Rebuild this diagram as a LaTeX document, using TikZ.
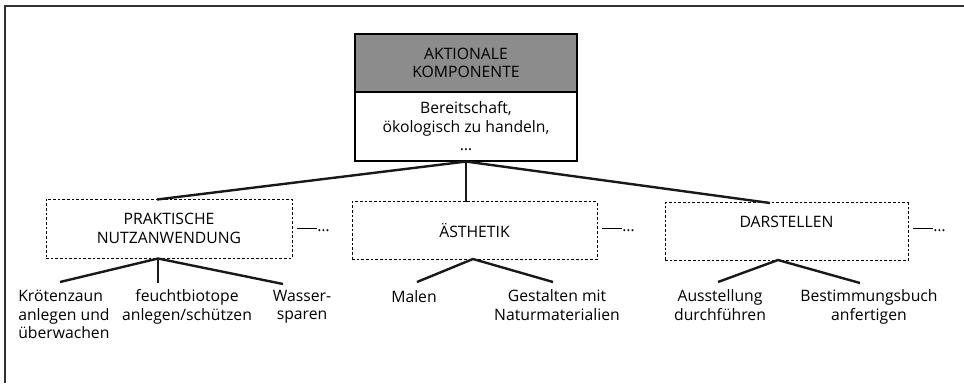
\documentclass[tikz,border=0pt]{standalone}
\usepackage{fontspec}
\setmainfont{Open Sans}
\definecolor{boxgray}{RGB}{140,140,140}
\definecolor{framegray}{RGB}{50,50,50}
\begin{document}
\begin{tikzpicture}[x=0.75pt,y=-0.75pt,
  font=\fontsize{11.8}{13.9}\selectfont,
  conn/.style={line width=1.8pt, black!90},
  solidbox/.style={draw, line width=0.8pt, minimum width=166.5pt, inner sep=0pt, align=center},
  dbox/.style={draw, dash pattern=on 2pt off 1.5pt, line width=0.75pt, inner sep=0pt, align=center, minimum height=43pt},
  leaf/.style={anchor=north, align=center, inner sep=0pt},
  more/.style={anchor=base west, inner sep=0pt}]
\useasboundingbox (0,0) rectangle (964,383);
\draw[framegray, line width=0.8pt] (5,383) -- (5,6) -- (964,6);

\node[solidbox, fill=boxgray, minimum height=43.5pt] (akt) at (466,63) {AKTIONALE\\KOMPONENTE};
\node[solidbox, fill=white, minimum height=51.75pt] (ber) at (466,126.5) {Bereitschaft,\\ökologisch zu handeln,\\…};

\node[dbox, minimum width=184.5pt, minimum height=44.25pt] (prak) at (169,228.5) {PRAKTISCHE\\NUTZANWENDUNG};
\node[dbox, minimum width=183.75pt] (aest) at (474.5,230.5) {ÄSTHETIK};
\node[dbox, minimum width=182.25pt] (dars) at (786.5,231.5) {DARSTELLEN\\\mbox{}};

\node[more] (mp) at (297,231) {\rule[1.3pt]{15pt}{0.7pt}…};
\node[more] (ma) at (602,231) {\rule[1.3pt]{15pt}{0.7pt}…};
\node[more] (md) at (913,231) {\rule[1.3pt]{15pt}{0.7pt}…};

\coordinate (pt) at (157,199.5);
\coordinate (pb) at (158,258.5);
\coordinate (at) at (466,202);
\coordinate (ab) at (473,259);
\coordinate (dt) at (770,203);
\coordinate (db) at (778,260);
\coordinate (k1) at (60,282);
\coordinate (k2) at (158,283);
\coordinate (k3) at (283,284);
\coordinate (a1) at (417,282);
\coordinate (a2) at (553,282);
\coordinate (d1) at (718,282);
\coordinate (d2) at (860,283);

\draw[conn] (pt) -- (ber.south) -- (dt);
\draw[conn] (ber.south) -- (at);
\draw[conn] (k1) -- (pb) -- (k3);
\draw[conn] (pb) -- (k2);
\draw[conn] (a1) -- (ab) -- (a2);
\draw[conn] (d1) -- (db) -- (d2);

\node[leaf, anchor=north west, align=left] (kr) at (18,290) {Krötenzaun\\anlegen und\\überwachen};
\node[leaf] (fe) at (187,289.5) {feuchtbiotope\\anlegen/schützen};
\node[leaf] (wa) at (302,289.5) {Wasser-\\sparen};
\node[leaf] (mal) at (414,290) {Malen};
\node[leaf] (ge) at (557,289.5) {Gestalten mit\\Naturmaterialien};
\node[leaf] (au) at (720,289.5) {Ausstellung\\durchführen};
\node[leaf] (be) at (869,289.5) {Bestimmungsbuch\\anfertigen};
\end{tikzpicture}
\end{document}
